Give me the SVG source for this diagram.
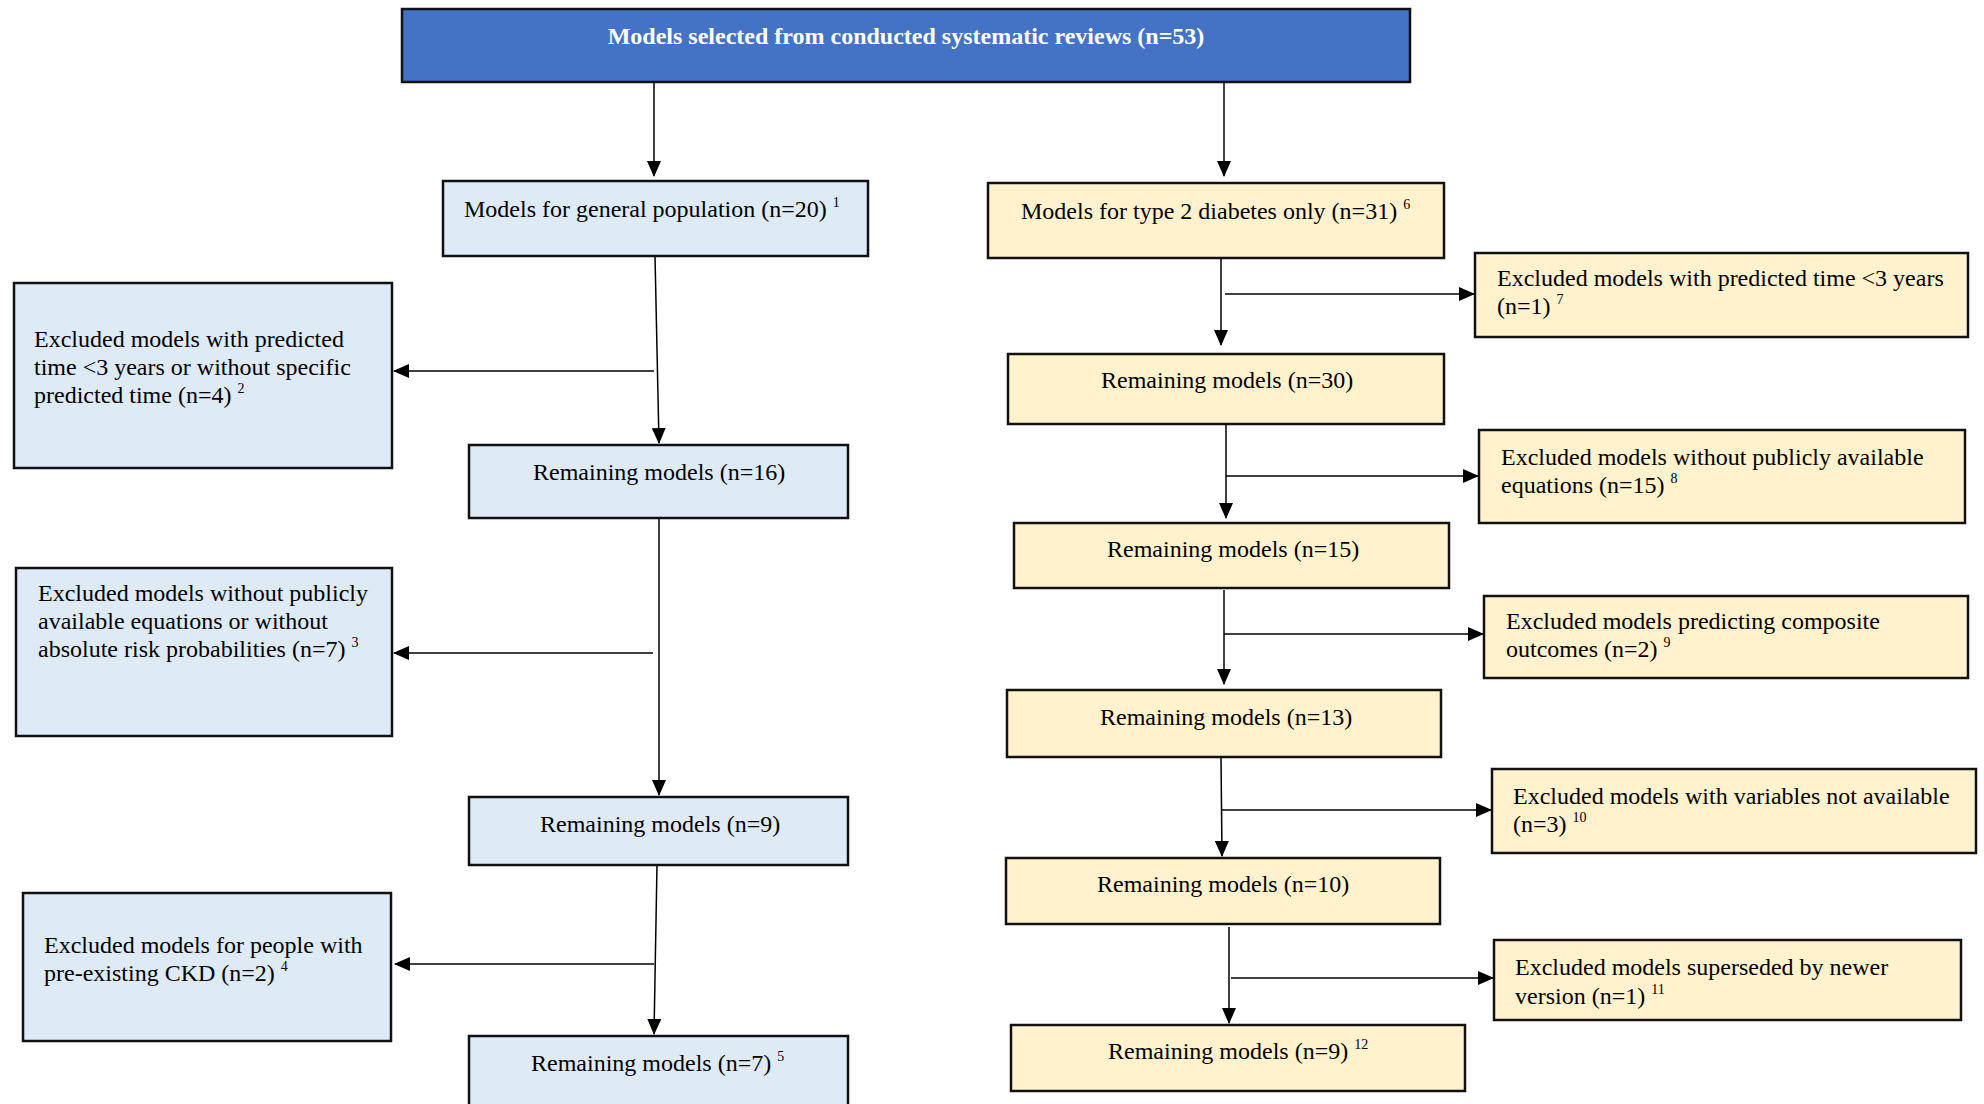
<svg xmlns="http://www.w3.org/2000/svg" width="1984" height="1104" viewBox="0 0 1984 1104">
<defs>
<style>
.box{stroke:#111;stroke-width:2.5}
.top{fill:#4472C4}
.blue{fill:#DEEAF6}
.yel{fill:#FFF2CC}
text{font-family:"Liberation Serif","Times New Roman",serif;font-size:24px;fill:#000}
.title{font-weight:bold;fill:#fff;text-anchor:middle}
.sup{font-size:14px}
.c{stroke:#000;stroke-width:1.5;fill:none;marker-end:url(#ah)}
</style>
<marker id="ah" markerUnits="userSpaceOnUse" markerWidth="16" markerHeight="14" refX="15" refY="7" orient="auto">
<path d="M0,0 L16,7 L0,14 Z" fill="#000"/>
</marker>
</defs>
<rect width="1984" height="1104" fill="#fff"/>

<g id="connectors">
<path class="c" d="M654,82 V176"/>
<path class="c" d="M1224,82 V176"/>
<path class="c" d="M655,256 L659,443"/>
<path class="c" d="M654,371 H394"/>
<path class="c" d="M659,518 V795"/>
<path class="c" d="M653,653 H394"/>
<path class="c" d="M657,865 L654,1034"/>
<path class="c" d="M654,964 H395"/>
<path class="c" d="M1221,259 V345"/>
<path class="c" d="M1225,294 H1474"/>
<path class="c" d="M1226,425 V518"/>
<path class="c" d="M1226,476 H1478"/>
<path class="c" d="M1224,590 V684"/>
<path class="c" d="M1224,634 H1483"/>
<path class="c" d="M1221,757 L1222,856"/>
<path class="c" d="M1222,810 H1491"/>
<path class="c" d="M1229,927 V1023"/>
<path class="c" d="M1231,978 H1493"/>
</g>

<g id="n-top"><rect class="box top" x="402" y="9" width="1008" height="73"/>
<text class="title" x="906" y="44">Models selected from conducted systematic reviews (n=53)</text></g>

<g id="n-genpop"><rect class="box blue" x="443" y="181" width="425" height="75"/>
<text x="464" y="217">Models for general population (n=20) <tspan class="sup" dy="-10">1</tspan></text></g>

<g id="n-excl1"><rect class="box blue" x="14" y="283" width="378" height="185"/>
<text x="34" y="347">Excluded models with predicted</text>
<text x="34" y="375">time &lt;3 years or without specific</text>
<text x="34" y="403">predicted time (n=4) <tspan class="sup" dy="-10">2</tspan></text></g>

<g id="n-rem16"><rect class="box blue" x="469" y="445" width="379" height="73"/>
<text x="533" y="480">Remaining models (n=16)</text></g>

<g id="n-excl2"><rect class="box blue" x="16" y="568" width="376" height="168"/>
<text x="38" y="601">Excluded models without publicly</text>
<text x="38" y="629">available equations or without</text>
<text x="38" y="657">absolute risk probabilities (n=7) <tspan class="sup" dy="-10">3</tspan></text></g>

<g id="n-rem9a"><rect class="box blue" x="469" y="797" width="379" height="68"/>
<text x="540" y="832">Remaining models (n=9)</text></g>

<g id="n-excl3"><rect class="box blue" x="23" y="893" width="368" height="148"/>
<text x="44" y="953">Excluded models for people with</text>
<text x="44" y="981">pre-existing CKD (n=2) <tspan class="sup" dy="-10">4</tspan></text></g>

<g id="n-rem7"><rect class="box blue" x="469" y="1036" width="379" height="80"/>
<text x="531" y="1071">Remaining models (n=7) <tspan class="sup" dy="-10">5</tspan></text></g>

<g id="n-t2d"><rect class="box yel" x="988" y="183" width="456" height="75"/>
<text x="1021" y="219">Models for type 2 diabetes only (n=31) <tspan class="sup" dy="-10">6</tspan></text></g>

<g id="n-excl7"><rect class="box yel" x="1475" y="253" width="493" height="84"/>
<text x="1497" y="286">Excluded models with predicted time &lt;3 years</text>
<text x="1497" y="314">(n=1) <tspan class="sup" dy="-10">7</tspan></text></g>

<g id="n-rem30"><rect class="box yel" x="1008" y="354" width="436" height="70"/>
<text x="1101" y="388">Remaining models (n=30)</text></g>

<g id="n-excl8"><rect class="box yel" x="1479" y="430" width="486" height="93"/>
<text x="1501" y="465">Excluded models without publicly available</text>
<text x="1501" y="493">equations (n=15) <tspan class="sup" dy="-10">8</tspan></text></g>

<g id="n-rem15"><rect class="box yel" x="1014" y="523" width="435" height="65"/>
<text x="1107" y="557">Remaining models (n=15)</text></g>

<g id="n-excl9"><rect class="box yel" x="1484" y="596" width="484" height="82"/>
<text x="1506" y="629">Excluded models predicting composite</text>
<text x="1506" y="657">outcomes (n=2) <tspan class="sup" dy="-10">9</tspan></text></g>

<g id="n-rem13"><rect class="box yel" x="1007" y="690" width="434" height="67"/>
<text x="1100" y="725">Remaining models (n=13)</text></g>

<g id="n-excl10"><rect class="box yel" x="1492" y="769" width="484" height="84"/>
<text x="1513" y="804">Excluded models with variables not available</text>
<text x="1513" y="832">(n=3) <tspan class="sup" dy="-10">10</tspan></text></g>

<g id="n-rem10"><rect class="box yel" x="1006" y="858" width="434" height="66"/>
<text x="1097" y="892">Remaining models (n=10)</text></g>

<g id="n-excl11"><rect class="box yel" x="1494" y="940" width="467" height="80"/>
<text x="1515" y="975">Excluded models superseded by newer</text>
<text x="1515" y="1004">version (n=1) <tspan class="sup" dy="-10">11</tspan></text></g>

<g id="n-rem9b"><rect class="box yel" x="1011" y="1025" width="454" height="66"/>
<text x="1108" y="1059">Remaining models (n=9) <tspan class="sup" dy="-10">12</tspan></text></g>
</svg>
